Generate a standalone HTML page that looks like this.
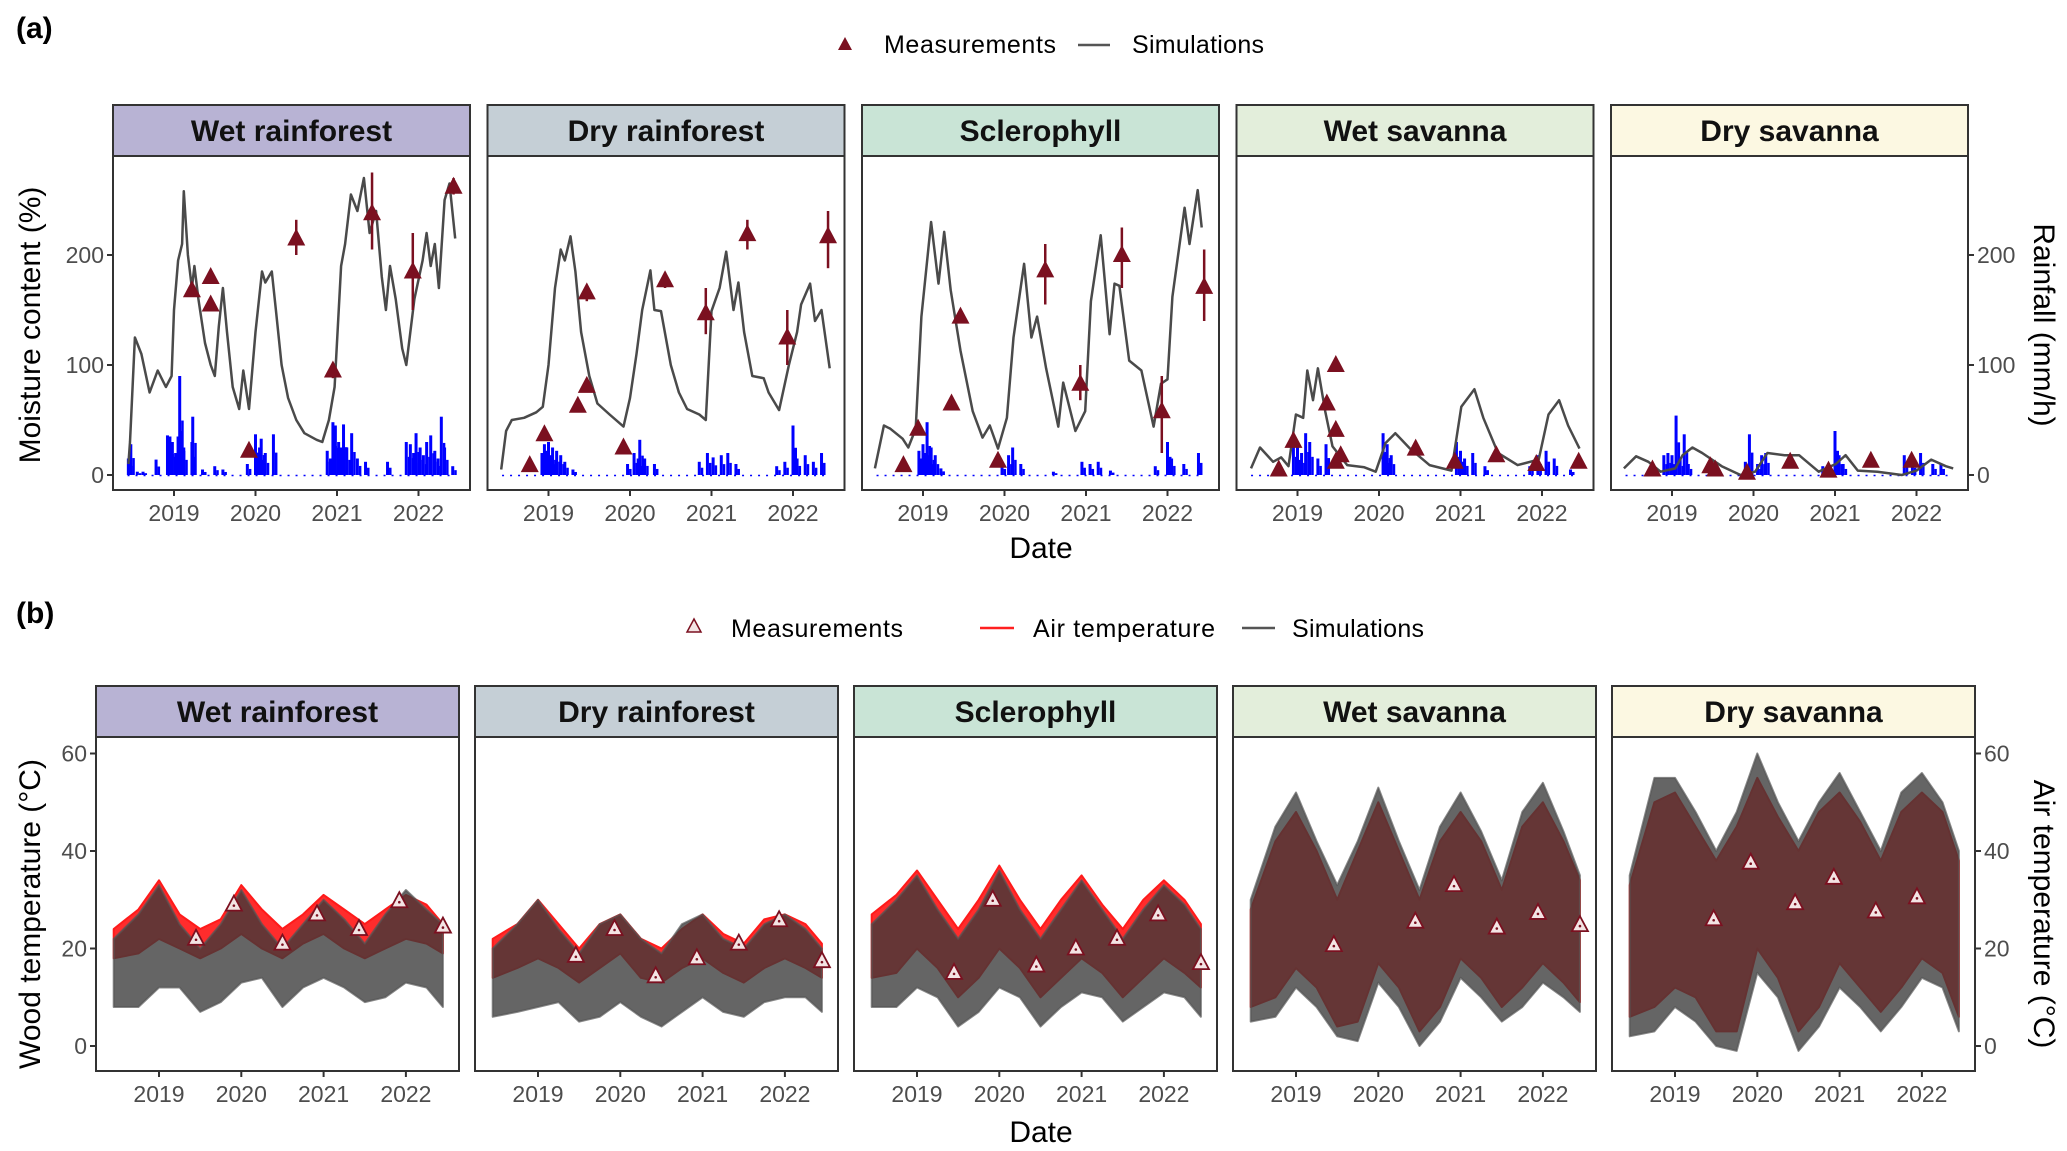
<!DOCTYPE html>
<html><head><meta charset="utf-8"><style>
html,body{margin:0;padding:0;background:#fff;}
svg{display:block;font-family:"Liberation Sans",Arial,sans-serif;}
</style></head><body>
<svg id="fig" width="2067" height="1151" viewBox="0 0 2067 1151" xmlns="http://www.w3.org/2000/svg">
<text x="16" y="38" font-size="30" font-weight="bold">(a)</text>
<text x="16" y="623" font-size="30" font-weight="bold">(b)</text>
<g>
<polygon points="845,37 838,50 852,50" fill="#7b1020"/>
<text x="884" y="53" font-size="25" textLength="172">Measurements</text>
<line x1="1078" y1="45" x2="1110" y2="45" stroke="#555" stroke-width="2.5"/>
<text x="1132" y="53" font-size="25" textLength="132">Simulations</text>
</g>
<g>
<polygon points="694,619 687,632 701,632" fill="#f3e4e4" stroke="#7b1020" stroke-width="1.5"/>
<text x="731" y="637" font-size="25" textLength="172">Measurements</text>
<line x1="980" y1="628" x2="1014" y2="628" stroke="#ff2020" stroke-width="2.5"/>
<text x="1033" y="637" font-size="25" textLength="182">Air temperature</text>
<line x1="1242" y1="628" x2="1275" y2="628" stroke="#555" stroke-width="2.5"/>
<text x="1292" y="637" font-size="25" textLength="132">Simulations</text>
</g>
<text x="1041" y="558" font-size="30" text-anchor="middle">Date</text>
<text x="1041" y="1142" font-size="30" text-anchor="middle">Date</text>
<text transform="translate(40,325) rotate(-90)" font-size="30" text-anchor="middle">Moisture content (%)</text>
<text transform="translate(2034,325) rotate(90)" font-size="30" text-anchor="middle">Rainfall (mm/h)</text>
<text transform="translate(40,914) rotate(-90)" font-size="30" text-anchor="middle">Wood temperature (°C)</text>
<text transform="translate(2034,914) rotate(90)" font-size="30" text-anchor="middle">Air temperature (°C)</text>
</svg>
<script>
const NS='http://www.w3.org/2000/svg';
const svg=document.getElementById('fig');
function mk(tag,attrs,parent){const e=document.createElementNS(NS,tag);for(const k in attrs)e.setAttribute(k,attrs[k]);(parent||svg).appendChild(e);return e;}

// ---------- data: panel names ----------
const siteNames=['Wet rainforest','Dry rainforest','Sclerophyll','Wet savanna','Dry savanna'];
const stripColors=['#b8b3d4','#c5cfd6','#c9e4d6','#e3eedb','#fcf8e2'];
const yearTicks=[2019,2020,2021,2022];
const moistTicks=[0,100,200];
const tempTicks=[0,20,40,60];

// ---------- (a) simulated moisture ----------
const simDatesWR=[2018.44,2018.46,2018.52,2018.6,2018.7,2018.8,2018.9,2018.97,2019.0,2019.05,2019.1,2019.12,2019.17,2019.22,2019.25,2019.3,2019.38,2019.45,2019.5,2019.55,2019.6,2019.65,2019.72,2019.8,2019.85,2019.92,2020.0,2020.08,2020.12,2020.2,2020.25,2020.32,2020.4,2020.5,2020.6,2020.75,2020.82,2020.9,2020.97,2021.05,2021.1,2021.17,2021.25,2021.33,2021.4,2021.48,2021.55,2021.6,2021.65,2021.72,2021.8,2021.85,2021.95,2022.05,2022.1,2022.15,2022.2,2022.25,2022.32,2022.38,2022.45];
const simValsWR=[10,30,125,110,75,95,80,90,150,195,210,258,200,170,190,160,120,100,90,135,170,130,80,60,95,60,130,185,175,185,150,100,70,50,38,32,30,50,80,190,210,255,240,270,220,240,180,150,190,160,115,100,160,195,220,190,210,170,250,265,215];
const simDatesDR=[2018.42,2018.48,2018.55,2018.7,2018.85,2018.93,2019.0,2019.08,2019.15,2019.2,2019.27,2019.33,2019.4,2019.5,2019.6,2019.75,2019.92,2020.0,2020.08,2020.15,2020.25,2020.3,2020.38,2020.5,2020.6,2020.7,2020.85,2020.93,2021.0,2021.1,2021.18,2021.27,2021.33,2021.4,2021.5,2021.64,2021.7,2021.83,2021.95,2022.05,2022.1,2022.21,2022.27,2022.35,2022.45];
const simValsDR=[5,40,50,52,57,62,100,170,205,195,217,185,130,90,65,55,44,70,110,150,186,150,149,100,75,60,55,50,149,170,203,150,175,130,90,88,75,59,100,130,155,174,140,150,97];
const simDatesSC=[2018.41,2018.52,2018.6,2018.75,2018.82,2018.91,2018.98,2019.1,2019.19,2019.26,2019.34,2019.46,2019.61,2019.73,2019.82,2019.92,2020.03,2020.11,2020.24,2020.33,2020.4,2020.51,2020.66,2020.72,2020.87,2020.99,2021.06,2021.18,2021.29,2021.35,2021.41,2021.53,2021.68,2021.83,2021.92,2022.0,2022.06,2022.21,2022.27,2022.37,2022.42];
const simValsSC=[6,45,42,33,25,42,144,230,174,221,168,113,58,34,45,24,52,125,192,125,144,97,44,84,40,58,158,218,128,174,172,104,95,44,83,87,162,243,210,259,225];
const simDatesWS=[2018.43,2018.54,2018.7,2018.8,2018.89,2018.98,2019.07,2019.12,2019.19,2019.25,2019.34,2019.43,2019.61,2019.82,2019.96,2020.08,2020.2,2020.38,2020.62,2020.89,2021.01,2021.17,2021.28,2021.46,2021.7,2021.96,2022.08,2022.21,2022.32,2022.46];
const simValsWS=[6,25,12,16,8,55,52,95,68,97,58,26,9,7,3,29,38,24,9,4,62,78,52,20,9,14,55,68,45,24];
const simDatesDS=[2018.41,2018.56,2018.71,2018.86,2019.04,2019.13,2019.25,2019.37,2019.61,2019.84,2020.02,2020.17,2020.38,2020.56,2020.8,2021.01,2021.13,2021.28,2021.52,2021.82,2022.0,2022.18,2022.36,2022.45];
const simValsDS=[6,17,12,3,6,18,25,20,8,0,3,20,18,18,3,10,18,4,3,0,4,14,8,6];

// ---------- (a) measurements ----------
const measDatesWR=[2019.22,2019.45,2019.45,2019.92,2020.5,2020.95,2021.43,2021.93,2022.43];
const measValsWR=[168,180,155,22,215,95,238,185,262];
const measLoWR=[166,176,150,20,200,88,205,150,255];
const measHiWR=[170,184,160,24,232,102,275,220,270];
const measDatesDR=[2018.77,2018.95,2019.36,2019.47,2019.47,2019.92,2020.43,2020.93,2021.44,2021.93,2022.43];
const measValsDR=[9,37,63,81,166,25,177,147,219,125,217];
const measLoDR=[9,37,63,81,158,25,170,128,205,100,188];
const measHiDR=[9,37,63,81,172,25,184,170,232,150,240];
const measDatesSC=[2018.76,2018.94,2019.35,2019.46,2019.92,2020.5,2020.93,2021.44,2021.93,2022.45];
const measValsSC=[9,42,65,144,13,186,83,200,58,171];
const measLoSC=[9,38,65,138,13,155,68,170,20,140];
const measHiSC=[9,46,65,150,13,210,100,225,90,205];
const measDatesWS=[2018.77,2018.95,2019.36,2019.47,2019.47,2019.47,2019.53,2020.45,2020.93,2021.44,2021.93,2022.45];
const measValsWS=[5,31,65,100,41,12,18,24,12,18,10,12];
const measDatesDS=[2018.76,2019.47,2019.53,2019.92,2020.45,2020.92,2021.44,2021.94];
const measValsDS=[5,8,5,2,12,4,13,13];

// ---------- (a) rainfall ----------
const rainDatesWR=[2018.44,2018.47,2018.55,2018.62,2018.78,2018.92,2018.95,2018.98,2019.02,2019.05,2019.07,2019.09,2019.12,2019.22,2019.23,2019.35,2019.5,2019.6,2019.9,2020.0,2020.03,2020.05,2020.07,2020.12,2020.22,2020.88,2020.92,2020.95,2020.98,2021.02,2021.05,2021.08,2021.12,2021.18,2021.25,2021.35,2021.62,2021.85,2021.9,2021.94,2021.97,2022.02,2022.06,2022.1,2022.15,2022.2,2022.24,2022.28,2022.32,2022.42];
const rainValsWR=[15,28,3,3,14,36,35,30,20,35,90,40,25,30,53,5,8,5,10,37,15,25,33,20,37,22,15,48,45,30,25,46,25,38,15,12,12,30,28,20,38,25,18,30,36,22,15,53,25,8];
const rainDatesDR=[2018.92,2018.95,2018.98,2019.0,2019.03,2019.05,2019.1,2019.15,2019.2,2019.3,2019.97,2020.05,2020.1,2020.12,2020.18,2020.3,2020.85,2020.95,2021.02,2021.12,2021.2,2021.3,2021.8,2021.9,2022.0,2022.05,2022.15,2022.25,2022.35];
const rainValsDR=[20,28,22,30,18,25,22,18,12,5,10,20,15,32,15,10,12,20,16,18,20,10,8,12,45,15,18,12,20];
const rainDatesSC=[2018.95,2018.98,2019.0,2019.03,2019.05,2019.08,2019.1,2019.15,2019.22,2019.97,2020.05,2020.1,2020.2,2020.6,2020.95,2021.05,2021.15,2021.3,2021.85,2022.0,2022.05,2022.2,2022.38];
const rainValsSC=[22,15,28,20,48,18,25,18,6,10,18,25,10,3,12,10,12,4,8,30,15,10,20];
const rainDatesWS=[2018.95,2019.0,2019.05,2019.1,2019.15,2019.25,2019.35,2020.05,2020.08,2020.1,2020.15,2020.95,2021.0,2021.05,2021.15,2021.3,2021.85,2021.95,2022.05,2022.15,2022.35];
const rainValsWS=[30,25,20,38,30,15,28,38,20,28,18,30,22,15,20,8,8,18,22,15,5];
const rainDatesDS=[2018.9,2018.95,2019.0,2019.05,2019.1,2019.15,2019.2,2019.9,2019.95,2020.05,2020.1,2020.15,2020.85,2021.0,2021.05,2021.1,2021.85,2021.95,2022.05,2022.2,2022.3];
const rainValsDS=[18,20,18,54,15,37,10,12,37,10,18,20,8,40,18,10,18,12,20,10,10];

// ---------- (b) temperature envelopes (quarterly) ----------
const tDates=[2018.45,2018.75,2019.0,2019.25,2019.5,2019.75,2020.0,2020.25,2020.5,2020.75,2021.0,2021.25,2021.5,2021.75,2022.0,2022.25,2022.45];
const simHiWR=[22,27,33,25,20,25,32,25,20,25,30,26,21,27,32,28,25];
const simLoWR=[8,8,12,12,7,9,13,14,8,12,14,12,9,10,13,12,8];
const airHiWR=[24,28,34,27,24,26,33,28,24,27,31,28,25,28,31,29,25];
const airLoWR=[18,19,22,20,18,20,23,20,18,21,23,20,18,20,22,21,19];
const simHiDR=[20,25,30,24,19,25,27,22,19,25,27,22,20,25,27,24,20];
const simLoDR=[6,7,8,9,5,6,9,6,4,7,10,7,6,9,10,10,7];
const airHiDR=[22,25,30,25,20,25,27,22,20,24,27,23,21,26,27,25,21];
const airLoDR=[14,16,18,16,13,16,19,14,13,16,18,15,13,16,18,16,14];
const simHiSC=[25,30,35,28,22,28,36,28,22,28,34,28,22,28,33,29,24];
const simLoSC=[8,8,12,10,4,7,12,10,4,8,11,10,5,8,11,10,6];
const airHiSC=[27,31,36,30,24,30,37,30,24,30,35,29,24,30,34,30,25];
const airLoSC=[14,15,20,16,10,14,20,16,10,14,18,15,10,14,18,15,12];
const simHiWS=[30,45,52,42,33,42,53,42,32,45,52,44,34,48,54,44,35];
const simLoWS=[5,6,12,8,2,1,13,8,0,5,14,10,5,8,13,10,7];
const airHiWS=[28,42,48,40,30,40,50,40,30,42,48,42,32,45,50,42,34];
const airLoWS=[8,10,16,12,4,5,17,12,3,8,18,14,8,12,17,13,9];
const simHiDS=[35,55,55,48,40,48,60,50,42,50,56,48,40,52,56,50,40];
const simLoDS=[2,3,8,5,0,-1,15,10,-1,4,12,8,3,8,14,12,3];
const airHiDS=[33,50,52,45,38,45,55,47,40,48,52,46,38,48,52,48,38];
const airLoDS=[6,8,12,10,3,3,20,14,3,8,17,12,7,12,18,15,6];

// ---------- (b) measurements ----------
const tMeasDatesWR=[2019.45,2019.91,2020.5,2020.92,2021.43,2021.92,2022.45];
const tMeasValsWR=[22,29,21,27,24,29.7,24.5];
const tMeasDatesDR=[2019.46,2019.93,2020.43,2020.93,2021.44,2021.93,2022.45];
const tMeasValsDR=[18.5,24,14.3,18,21,25.8,17.4];
const tMeasDatesSC=[2019.45,2019.92,2020.45,2020.93,2021.43,2021.93,2022.45];
const tMeasValsSC=[15,30,16.5,20,22,27,17];
const tMeasDatesWS=[2019.46,2020.45,2020.92,2021.44,2021.94,2022.45];
const tMeasValsWS=[20.7,25.5,33,24.3,27.3,24.8];
const tMeasDatesDS=[2019.47,2019.92,2020.46,2020.93,2021.44,2021.94];
const tMeasValsDS=[26,37.6,29.3,34.5,27.6,30.5];

// ---------- layout ----------
const A={lefts:[113,487.5,862,1236.5,1611],w:357,stripTop:105,stripBot:156,bot:490,off:61,py:81.5};
const B={lefts:[96,475,854,1233,1612],w:363,stripTop:686,stripBot:737,bot:1071,off:63,py:82.3};
const keys=['WR','DR','SC','WS','DS'];
const simDates={WR:simDatesWR,DR:simDatesDR,SC:simDatesSC,WS:simDatesWS,DS:simDatesDS};
const simVals={WR:simValsWR,DR:simValsDR,SC:simValsSC,WS:simValsWS,DS:simValsDS};
const measDates={WR:measDatesWR,DR:measDatesDR,SC:measDatesSC,WS:measDatesWS,DS:measDatesDS};
const measVals={WR:measValsWR,DR:measValsDR,SC:measValsSC,WS:measValsWS,DS:measValsDS};
const measLo={WR:measLoWR,DR:measLoDR,SC:measLoSC};
const measHi={WR:measHiWR,DR:measHiDR,SC:measHiSC};
const rainDates={WR:rainDatesWR,DR:rainDatesDR,SC:rainDatesSC,WS:rainDatesWS,DS:rainDatesDS};
const rainVals={WR:rainValsWR,DR:rainValsDR,SC:rainValsSC,WS:rainValsWS,DS:rainValsDS};
const simHi={WR:simHiWR,DR:simHiDR,SC:simHiSC,WS:simHiWS,DS:simHiDS};
const simLo={WR:simLoWR,DR:simLoDR,SC:simLoSC,WS:simLoWS,DS:simLoDS};
const airHi={WR:airHiWR,DR:airHiDR,SC:airHiSC,WS:airHiWS,DS:airHiDS};
const airLo={WR:airLoWR,DR:airLoDR,SC:airLoSC,WS:airLoWS,DS:airLoDS};
const tMeasDates={WR:tMeasDatesWR,DR:tMeasDatesDR,SC:tMeasDatesSC,WS:tMeasDatesWS,DS:tMeasDatesDS};
const tMeasVals={WR:tMeasValsWR,DR:tMeasValsDR,SC:tMeasValsSC,WS:tMeasValsWS,DS:tMeasValsDS};

const yA=v=>475-v*1.1;
const yB=v=>1046-v*4.875;

function frame(L,i,left,prefix){
  const g=mk('g',{});
  
  
  const s=mk('rect',{x:left,y:L.stripTop,width:L.w,height:L.stripBot-L.stripTop,fill:stripColors[i],stroke:'#333','stroke-width':2},g);
  
  
  const t=mk('text',{x:left+L.w/2,y:L.stripTop+36,'font-size':30,'font-weight':'bold','text-anchor':'middle',fill:'#111'},g);
  t.textContent=siteNames[i];
  
  
  const p=mk('rect',{x:left,y:L.stripBot,width:L.w,height:L.bot-L.stripBot,fill:'#fff',stroke:'#333','stroke-width':2},g);
  
  
  const x=d=>left+L.off+(d-2019)*L.py;
  yearTicks.forEach(yr=>{
    mk('line',{x1:x(yr),x2:x(yr),y1:L.bot,y2:L.bot+6,stroke:'#333','stroke-width':2},g);
    const tl=mk('text',{x:x(yr),y:L.bot+31,'font-size':23,'text-anchor':'middle',fill:'#4d4d4d'},g);
    tl.textContent=yr;
    
    
  });
  return {g,x};
}
function yAxis(ticks,yf,left,right,L){
  ticks.forEach(v=>{
    if(!right){
      mk('line',{x1:left-6,x2:left,y1:yf(v),y2:yf(v),stroke:'#333','stroke-width':2});
      const t=mk('text',{x:left-9,y:yf(v)+8,'font-size':23,'text-anchor':'end',fill:'#4d4d4d'});
      t.textContent=v;
      
      
    } else {
      const r=left+L.w;
      mk('line',{x1:r,x2:r+6,y1:yf(v),y2:yf(v),stroke:'#333','stroke-width':2});
      const t=mk('text',{x:r+9,y:yf(v)+8,'font-size':23,'text-anchor':'start',fill:'#4d4d4d'});
      t.textContent=v;
      
      
    }
  });
}

// ----- panel (a) -----
keys.forEach((k,i)=>{
  const left=A.lefts[i];
  const {g,x}=frame(A,i,left,'moisture');
  // baseline rain dots
  const bl=mk('line',{x1:x(2018.43),x2:x(2022.45),y1:yA(0)+0.5,y2:yA(0)+0.5,stroke:'#0000ff','stroke-width':1.5,'stroke-dasharray':'2 6'},g);
  
  
  rainDates[k].forEach((d,j)=>{
    const v=rainVals[k][j];
    const r=mk('rect',{x:x(d)-1.5,y:yA(v),width:3,height:yA(0)-yA(v),fill:'#0000ff'},g);
    
    
    const r2=mk('rect',{x:x(d)+1.5,y:yA(v*0.55),width:2.5,height:yA(0)-yA(v*0.55),fill:'#0000ff'},g);
    
    
  });
  const pts=simDates[k].map((d,j)=>x(d).toFixed(1)+','+yA(simVals[k][j]).toFixed(1)).join(' ');
  const pl=mk('polyline',{points:pts,fill:'none',stroke:'#4a4a4a','stroke-width':2.5,'stroke-linejoin':'round'},g);
  
  
  measDates[k].forEach((d,j)=>{
    const cx=x(d),cy=yA(measVals[k][j]);
    if(measLo[k]){
      const e=mk('line',{x1:cx,x2:cx,y1:yA(measLo[k][j]),y2:yA(measHi[k][j]),stroke:'#7b1020','stroke-width':2.5},g);
      
      
    }
    const t=mk('polygon',{points:`${cx},${cy-10} ${cx-9},${cy+7} ${cx+9},${cy+7}`,fill:'#7b1020'},g);
    
    
  });
  if(i===0) yAxis(moistTicks,yA,left,false,A);
  if(i===4) yAxis(moistTicks,yA,left,true,A);
});

// ----- panel (b) -----
keys.forEach((k,i)=>{
  const left=B.lefts[i];
  const {g,x}=frame(B,i,left,'temperature');
  const band=(hi,lo)=>tDates.map((d,j)=>x(d).toFixed(1)+','+yB(hi[j]).toFixed(1)).concat(tDates.slice().reverse().map((d,j)=>{const jj=tDates.length-1-j;return x(d).toFixed(1)+','+yB(lo[jj]).toFixed(1);})).join(' ');
  const ra=mk('polygon',{points:band(airHi[k],airLo[k]),fill:'#ff1a1a','fill-opacity':0.92,stroke:'#ff1a1a','stroke-width':2,'stroke-linejoin':'round'},g);
  
  
  const ga=mk('polygon',{points:band(simHi[k],simLo[k]),fill:'#3a3a3a','fill-opacity':0.78,stroke:'#555','stroke-width':2,'stroke-opacity':0.7,'stroke-linejoin':'round'},g);
  
  
  tMeasDates[k].forEach((d,j)=>{
    const cx=x(d),cy=yB(tMeasVals[k][j]);
    const t=mk('polygon',{points:`${cx},${cy-9} ${cx-8},${cy+6} ${cx+8},${cy+6}`,fill:'#f3e4e4',stroke:'#7b1020','stroke-width':1.8},g);
    
    
    mk('circle',{cx:cx,cy:cy+1,r:1.3,fill:'#7b1020'},g);
  });
  if(i===0) yAxis(tempTicks,yB,left,false,B);
  if(i===4) yAxis(tempTicks,yB,left,true,B);
});
</script>
</body></html>
